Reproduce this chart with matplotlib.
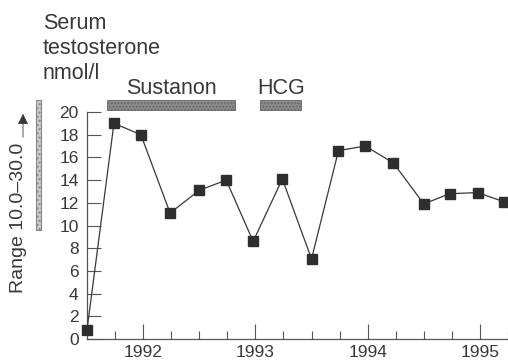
import numpy as np
import matplotlib.pyplot as plt
from matplotlib.patches import Rectangle

# sample dates (decimal years) and serum testosterone (nmol/l)
dates = [1991.5, 1991.74, 1991.98, 1992.24, 1992.5, 1992.74, 1992.98, 1993.24,
         1993.5, 1993.74, 1993.98, 1994.23, 1994.5, 1994.73, 1994.98, 1995.21]
testo = [0.8, 19.0, 18.0, 11.1, 13.1, 14.0, 8.6, 14.1,
         7.05, 16.6, 17.0, 15.5, 11.9, 12.8, 12.9, 12.1]

# treatment periods
treatments = ["Sustanon", "HCG"]
t_start = [1991.68, 1993.04]
t_end = [1992.82, 1993.41]

year_ticks = [1992, 1993, 1994, 1995]
quarter_ticks = np.arange(1991.75, 1995.3, 0.25)

plt.rcParams['font.family'] = ['Liberation Sans', 'DejaVu Sans']
ink = '#383838'

fig = plt.figure(figsize=(5.08, 3.62), dpi=100)
ax = fig.add_axes([87/508, 23/362, 1 - 87/508, 272.4/362])

ax.plot(dates, testo, '-', color=ink, lw=0.9, marker='s', ms=7,
        mfc='#2e2e2e', mec='#2e2e2e', clip_on=False, zorder=3)

# treatment bars with labels
for name, s, e in zip(treatments, t_start, t_end):
    ax.broken_barh([(s, e - s)], (20.2, 0.85), facecolors='#8c8c8c',
                   edgecolors='#666666', lw=0.6, hatch='.....', clip_on=False)
    ax.text((s + e) / 2, 21.55, name, ha='center', va='baseline',
            fontsize=15.5, color=ink)

ax.set_xlim(1991.5, 1995.24)
ax.set_ylim(0, 24)
ax.set_yticks(np.arange(0, 21, 2))
ax.set_xticks(year_ticks)
ax.set_xticks(quarter_ticks, minor=True)
ax.set_xticklabels([str(y) for y in year_ticks])

for s in ['top', 'right']:
    ax.spines[s].set_visible(False)
ax.spines['left'].set_bounds(0, 20)
for s in ['left', 'bottom']:
    ax.spines[s].set_color('#555555')
    ax.spines[s].set_linewidth(0.9)

ax.tick_params(axis='y', direction='in', length=10, width=0.8, colors='#555555',
               labelcolor=ink, labelsize=12.5, pad=6)
ax.tick_params(axis='x', which='major', direction='in', length=11, width=0.8,
               colors='#555555', labelcolor=ink, labelsize=12.5, pad=4)
ax.tick_params(axis='x', which='minor', direction='in', length=5.5, width=0.8,
               colors='#555555')

# y-axis title
fig.text(43/508, 1 - 29/362, "Serum", fontsize=15.5, color=ink, va='baseline')
fig.text(43/508, 1 - 54/362, "testosterone", fontsize=15.5, color=ink, va='baseline')
fig.text(43/508, 1 - 79/362, "nmol/l", fontsize=15.5, color=ink, va='baseline')

# normal range marker
fig.text(19/508, 1 - 218/362, "Range 10.0\u201330.0", rotation=90, fontsize=14,
         color=ink, ha='center', va='center')
ax.annotate('', xy=(23/508, 1 - 111/362), xytext=(23/508, 1 - 140/362),
            xycoords='figure fraction', textcoords='figure fraction',
            arrowprops=dict(arrowstyle='-|>', color=ink, lw=0.6,
                            mutation_scale=16))
fig.patches.append(Rectangle((36/508, 1 - 230/362), 5/508, 130/362,
                             transform=fig.transFigure, facecolor='#cccccc',
                             edgecolor='#888888', lw=0.8, hatch='....'))

fig.savefig('out.png', dpi=100)
